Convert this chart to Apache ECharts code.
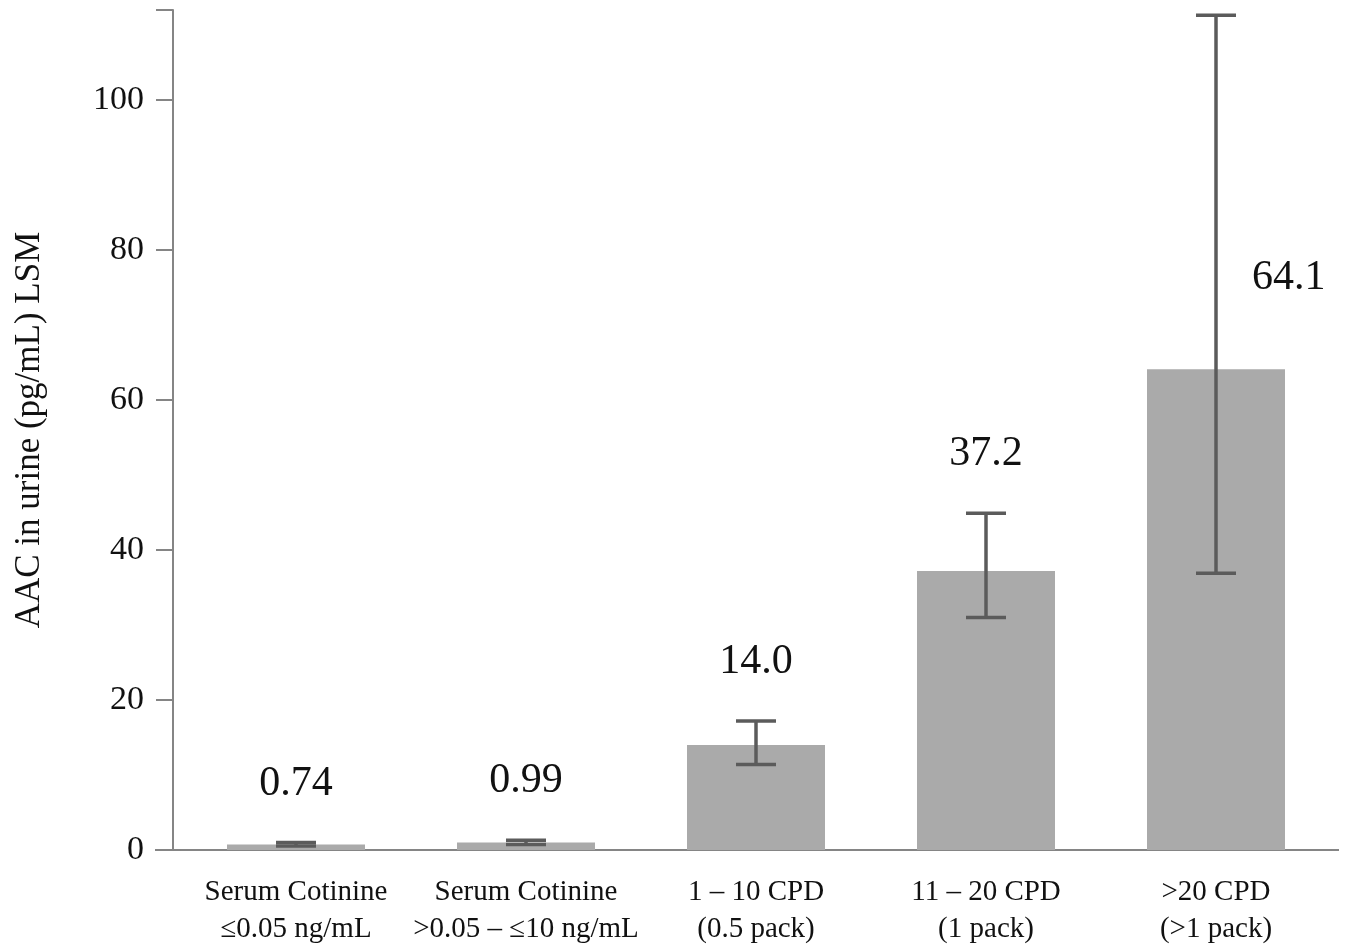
<!DOCTYPE html>
<html>
<head>
<meta charset="utf-8">
<script src="https://cdn.jsdelivr.net/npm/echarts@6/dist/echarts.min.js"></script>
<style>
html, body { margin: 0; background: #fff; }
#main { width: 1349px; height: 948px; }
</style>
</head>
<body>
<div id="main"></div>
<script>
// groups on the x axis
const categories = [
  "Serum Cotinine\n≤0.05 ng/mL",
  "Serum Cotinine\n>0.05 – ≤10 ng/mL",
  "1 – 10 CPD\n(0.5 pack)",
  "11 – 20 CPD\n(1 pack)",
  ">20 CPD\n(>1 pack)"
];
// least square means and their intervals
const lsm = [0.74, 0.99, 14.0, 37.2, 64.1];
const lsmText = ["0.74", "0.99", "14.0", "37.2", "64.1"];
const ciLow = [0.55, 0.75, 11.4, 31.0, 36.9];
const ciHigh = [1.0, 1.3, 17.2, 44.9, 111.3];
const yTicks = [0, 20, 40, 60, 80, 100];

const serif = "'Liberation Serif', 'DejaVu Serif', serif";
const axisGray = "#858585";
const whisker = "#5b5b5b";

var myChart = echarts.init(document.getElementById("main"));

const errData = categories.map((c, i) => [i, ciLow[i], ciHigh[i]]);
const labelData = categories.map((c, i) => [i, lsm[i], ciHigh[i], lsmText[i]]);

myChart.setOption({
  animation: false,
  grid: { left: 181, right: 18, top: 10, bottom: 98 },
  xAxis: {
    type: "category",
    data: categories,
    axisLine: { lineStyle: { color: axisGray, width: 2 } },
    axisTick: { alignWithLabel: true, length: 16, lineStyle: { color: axisGray, width: 2 } },
    axisLabel: {
      interval: 0,
      margin: 24,
      fontFamily: serif,
      fontSize: 29,
      lineHeight: 37,
      color: "#111"
    }
  },
  yAxis: {
    type: "value",
    min: 0,
    max: 112,
    interval: 20,
    offset: 8,
    name: "AAC in urine (pg/mL) LSM",
    nameLocation: "middle",
    nameGap: 126,
    nameTextStyle: { fontFamily: serif, fontSize: 35, color: "#111" },
    splitLine: { show: false },
    axisLine: { show: true, lineStyle: { color: axisGray, width: 2 } },
    axisTick: { show: true, length: 17, lineStyle: { color: axisGray, width: 2 } },
    axisLabel: {
      margin: 29,
      fontFamily: serif,
      fontSize: 34,
      color: "#111",
      formatter: v => (yTicks.indexOf(v) >= 0 ? String(v) : "")
    }
  },
  series: [
    {
      name: "LSM",
      type: "bar",
      data: lsm,
      barWidth: 138,
      itemStyle: { color: "#aaaaaa" }
    },
    {
      name: "CI",
      type: "custom",
      data: errData,
      z: 5,
      renderItem: function(params, api) {
        var x = api.value(0);
        var lo = api.coord([x, api.value(1)]);
        var hi = api.coord([x, api.value(2)]);
        var hw = 20;
        var style = { stroke: whisker, lineWidth: 3.5 };
        return {
          type: "group",
          children: [
            { type: "line", shape: { x1: lo[0], y1: lo[1], x2: hi[0], y2: hi[1] }, style: style },
            { type: "line", shape: { x1: hi[0] - hw, y1: hi[1], x2: hi[0] + hw, y2: hi[1] }, style: style },
            { type: "line", shape: { x1: lo[0] - hw, y1: lo[1], x2: lo[0] + hw, y2: lo[1] }, style: style }
          ]
        };
      }
    },
    {
      name: "values",
      type: "custom",
      data: labelData,
      z: 6,
      renderItem: function(params, api) {
        var x = api.value(0);
        var top = api.coord([x, api.value(2)]);
        var bar = api.coord([x, api.value(1)]);
        var txt = labelData[params.dataIndex][3];
        var px = top[0], py = top[1] - 38, align = "center";
        // whisker runs near the top: put the number beside it
        if (top[1] < params.coordSys.y + 120) {
          px = bar[0] + 36;
          py = bar[1] - 70;
          align = "left";
        }
        return {
          type: "text",
          style: {
            x: px,
            y: py,
            text: txt,
            align: align,
            verticalAlign: "bottom",
            font: "42px " + serif,
            fill: "#111"
          }
        };
      }
    }
  ]
});

// axis line runs a little past both ends of the plot
var y0 = myChart.convertToPixel({ yAxisIndex: 0 }, 0);
myChart.setOption({
  graphic: [
    { type: "line", shape: { x1: 155, y1: y0, x2: 182, y2: y0 }, style: { stroke: axisGray, lineWidth: 2 } },
    { type: "line", shape: { x1: 1330, y1: y0, x2: 1339, y2: y0 }, style: { stroke: axisGray, lineWidth: 2 } }
  ]
});
</script>
</body>
</html>
